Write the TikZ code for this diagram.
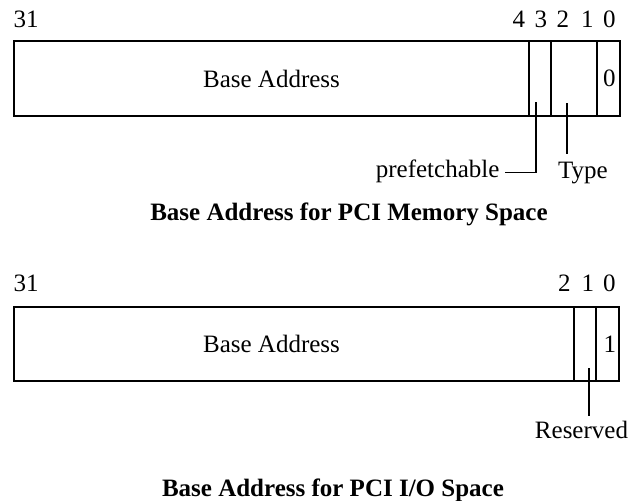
\documentclass[tikz,border=0pt]{standalone}
\usepackage{fontspec}
\setmainfont{Liberation Serif}
\begin{document}
\begin{tikzpicture}[x=0.5pt, y=-0.5pt, line width=0.6pt,
    every node/.style={inner sep=0pt, font=\fontsize{12.5}{14}\selectfont},
    bitnum/.style={anchor=base},
    caption/.style={anchor=base, font=\fontsize{12.5}{14}\selectfont\bfseries}]
    \useasboundingbox (0,0) rectangle (629,500);

    % ---------------- Top: memory space register ----------------
    \node[bitnum, anchor=base west] (m31) at (13,27) {31};
    \foreach \b/\x in {4/519, 3/541, 2/563, 1/587.5, 0/609.5}
        \node[bitnum] (mb\b) at (\x,27) {\b};

    % fields
    \draw (14,41) rectangle (620,116);
    \draw (529,41) -- (529,116);
    \draw (551,41) -- (551,116);
    \draw (597,41) -- (597,116);

    \node (mbase) at (271.5,78.5) {Base Address};
    \node (mzero) at (609.5,78.5) {0};

    % leaders
    \coordinate (pf top) at (536,102);
    \coordinate (type top) at (567,103);
    \node[anchor=base east] (pf) at (500,177) {prefetchable};
    \node[anchor=base] (type) at (583,178) {Type};
    \draw (pf top) |- ([xshift=2.5pt]pf.mid east);
    \draw (type top) -- ([yshift=3.5pt]type top |- type.north);

    \node[caption] (mtitle) at (349,220) {Base Address for PCI Memory Space};

    % ---------------- Bottom: I/O space register ----------------
    \node[bitnum, anchor=base west] (i31) at (13,291) {31};
    \foreach \b/\x in {2/564.5, 1/588, 0/609.5}
        \node[bitnum] (ib\b) at (\x,291) {\b};

    % fields
    \draw (14,307) rectangle (619,381);
    \draw (574,307) -- (574,381);
    \draw (596,307) -- (596,381);

    \node (ibase) at (271.5,344) {Base Address};
    \node (ione) at (610,344) {1};

    % leader
    \coordinate (res top) at (589,368);
    \node[anchor=base] (res) at (581.5,438) {Reserved};
    \draw (res top) -- ([yshift=2pt]res top |- res.north);

    \node[caption] (ititle) at (333,496) {Base Address for PCI I/O Space};
\end{tikzpicture}
\end{document}
